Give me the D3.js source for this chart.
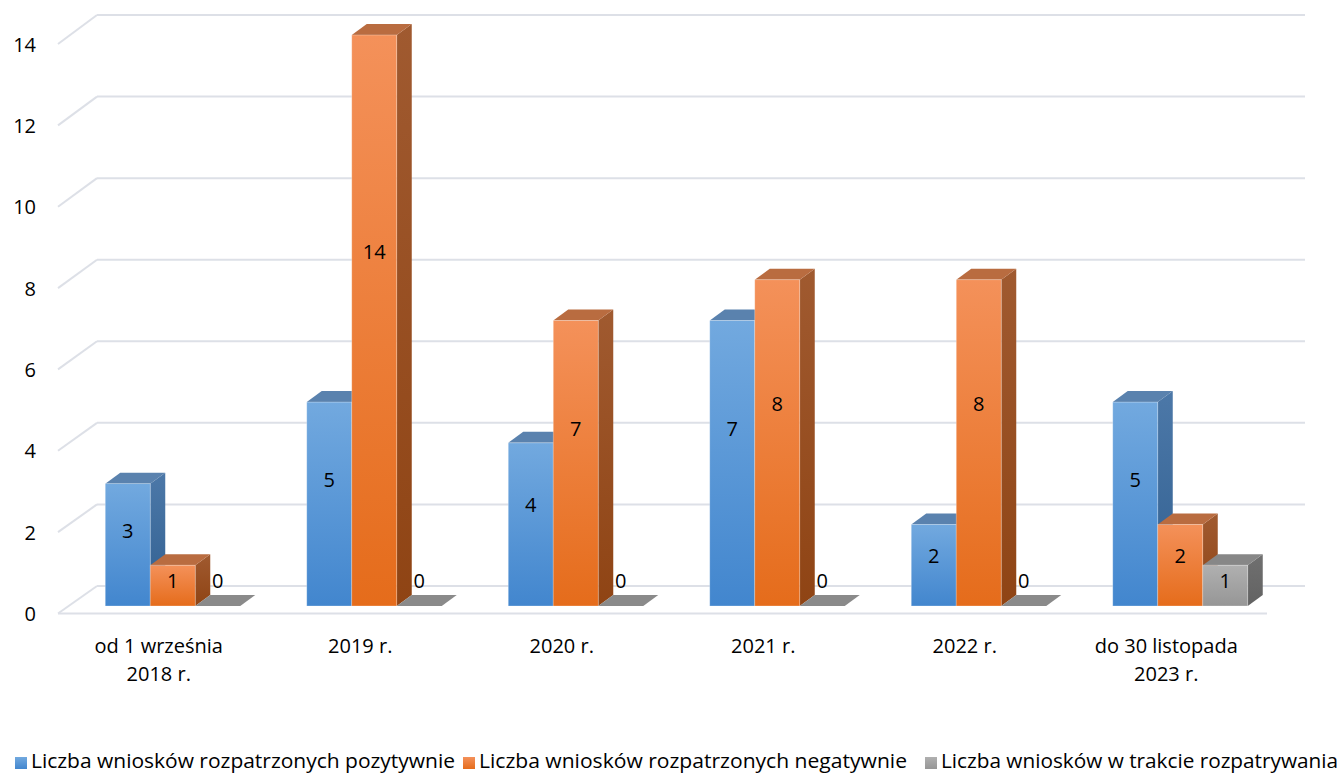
<!DOCTYPE html>
<html><head><meta charset="utf-8">
<script src="https://cdn.jsdelivr.net/npm/d3@7"></script>
<style>
html,body{margin:0;padding:0;background:#fff;}
svg{display:block;font-family:"Open Sans","Noto Sans",sans-serif;}
</style></head>
<body>
<svg id="chart" width="1342" height="774"></svg>
<script>
const categories = [["od 1 września","2018 r."],["2019 r."],["2020 r."],["2021 r."],["2022 r."],["do 30 listopada","2023 r."]];
const seriesNames = ["Liczba wniosków rozpatrzonych pozytywnie","Liczba wniosków rozpatrzonych negatywnie","Liczba wniosków w trakcie rozpatrywania"];
const positive = [3,5,4,7,2,5];
const negative = [1,14,7,8,8,2];
const pending  = [0,0,0,0,0,1];
const tickValues = [0,2,4,6,8,10,12,14];

const svg = d3.select("#chart");
const series = [positive, negative, pending];
const palette = [
  {front:["#72A9DF","#4286CE"], side:["#4C78A8","#305F90"], top:"#5A82AE"},
  {front:["#F4915A","#E56C1B"], side:["#A05A30","#8F4414"], top:"#B96C40"},
  {front:["#B0B0B0","#969696"], side:["#707070","#626262"], top:"#878787"}
];

const yBar = d3.scaleLinear().domain([0,14]).range([606,35]);
const yFront = d3.scaleLinear().domain([0,14]).range([613.5,44]);
const yBack = d3.scaleLinear().domain([0,14]).range([586,15]);
const xFront = d3.scaleBand().domain(d3.range(categories.length)).range([58,1267]);
const xBack = [97,1305];
const xGroup = d3.scaleBand().domain(d3.range(categories.length)).range([72,1281]).paddingInner(0.33).paddingOuter(0.165);
const xSeries = d3.scaleBand().domain(d3.range(series.length)).range([0, xGroup.bandwidth()]);
const depth = {dx:15, dy:-11};

const defs = svg.append("defs");
palette.forEach((p,i)=>{
  const g1 = defs.append("linearGradient").attr("id","gf"+i).attr("x1",0).attr("y1",0).attr("x2",0).attr("y2",1);
  g1.append("stop").attr("offset","0%").attr("stop-color",p.front[0]);
  g1.append("stop").attr("offset","100%").attr("stop-color",p.front[1]);
  const g2 = defs.append("linearGradient").attr("id","gs"+i).attr("x1",0).attr("y1",0).attr("x2",0).attr("y2",1);
  g2.append("stop").attr("offset","0%").attr("stop-color",p.side[0]);
  g2.append("stop").attr("offset","100%").attr("stop-color",p.side[1]);
});

// grid
const grid = svg.append("g").attr("stroke","#DDE0E7").attr("stroke-width",2).attr("fill","none");
tickValues.forEach(v=>{
  grid.append("line").attr("x1",xBack[0]).attr("x2",xBack[1]).attr("y1",yBack(v)).attr("y2",yBack(v));
  grid.append("line").attr("x1",xFront.range()[0]).attr("x2",xBack[0]).attr("y1",yFront(v)).attr("y2",yBack(v));
});
grid.append("line").attr("x1",xFront.range()[0]).attr("x2",xFront.range()[1]).attr("y1",yFront(0)).attr("y2",yFront(0));

// tick labels
svg.append("g").selectAll("text").data(tickValues).join("text")
  .attr("x",36).attr("y",d=>yFront(d)).attr("text-anchor","end").attr("dominant-baseline","central")
  .attr("font-size",20).attr("fill","#000").text(d=>d);

// bars
const barsG = svg.append("g");
const labels = [];
categories.forEach((c,ci)=>{
  series.forEach((s,si)=>{
    const v = s[ci];
    const x0 = xGroup(ci) + xSeries(si);
    const w = xSeries.bandwidth();
    const yb = yBar(0), yt = yBar(v);
    const g = barsG.append("g");
    const p = palette[si];
    if (v > 0) {
      g.append("path").attr("d",`M${x0+w},${yb}L${x0+w+depth.dx},${yb+depth.dy}L${x0+w+depth.dx},${yt+depth.dy}L${x0+w},${yt}Z`)
        .attr("fill",`url(#gs${si})`);
      g.append("path").attr("d",`M${x0},${yt}L${x0+w},${yt}L${x0+w+depth.dx},${yt+depth.dy}L${x0+depth.dx},${yt+depth.dy}Z`)
        .attr("fill",p.top);
      g.append("rect").attr("x",x0).attr("y",yt).attr("width",w).attr("height",yb-yt)
        .attr("fill",`url(#gf${si})`).attr("stroke","rgba(255,255,255,0.35)").attr("stroke-width",0.8);
    } else {
      g.append("path").attr("d",`M${x0},${yb}L${x0+w},${yb}L${x0+w+depth.dx},${yb+depth.dy}L${x0+depth.dx},${yb+depth.dy}Z`)
        .attr("fill","#8A8A8A");
    }
    labels.push({x:x0+w/2, y: yb - Math.max((yb-yt)*0.62, 26), v});
  });
});
svg.append("g").selectAll("text").data(labels).join("text")
  .attr("x",d=>d.x).attr("y",d=>d.y).attr("text-anchor","middle").attr("dominant-baseline","central")
  .attr("font-size",20).attr("fill","#000").text(d=>d.v);

// category labels
const catG = svg.append("g");
categories.forEach((lines,ci)=>{
  const t = catG.append("text").attr("text-anchor","middle").attr("font-size",20).attr("fill","#000");
  lines.forEach((ln,li)=>{
    t.append("tspan").attr("x",xFront(ci)+xFront.bandwidth()/2).attr("y",645+li*28).attr("dominant-baseline","central").text(ln);
  });
});

// legend
const legendX = [15,463,925];
const legendLen = [424,428,397];
const lg = svg.append("g");
seriesNames.forEach((n,i)=>{
  lg.append("rect").attr("x",legendX[i]).attr("y",757).attr("width",12).attr("height",12).attr("fill",`url(#gf${i})`);
  lg.append("text").attr("x",legendX[i]+16).attr("y",768)
    .attr("font-size",20).attr("fill","#000").attr("textLength",legendLen[i]).attr("lengthAdjust","spacingAndGlyphs").text(n);
});
</script>
</body></html>
